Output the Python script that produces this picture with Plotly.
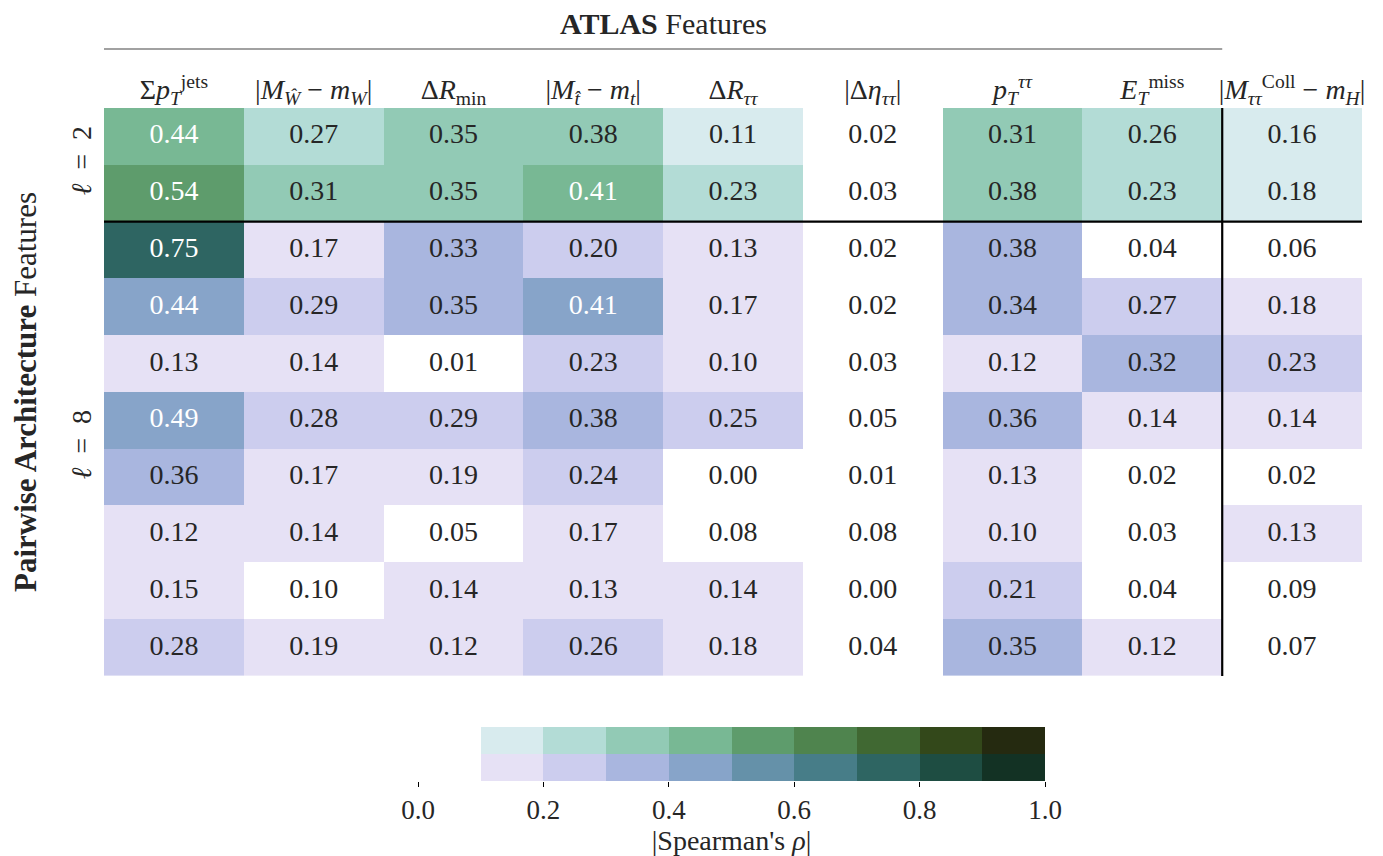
import plotly.graph_objects as go

features = [
    "Σ<i>p</i><sub><i>T</i></sub><sup>jets</sup>",
    "|<i>M</i><sub><i>Ŵ</i></sub> − <i>m</i><sub><i>W</i></sub>|",
    "Δ<i>R</i><sub>min</sub>",
    "|<i>M</i><sub><i>t̂</i></sub> − <i>m</i><sub><i>t</i></sub>|",
    "Δ<i>R</i><sub><i>ττ</i></sub>",
    "|Δ<i>η</i><sub><i>ττ</i></sub>|",
    "<i>p</i><sub><i>T</i></sub><sup><i>ττ</i></sup>",
    "<i>E</i><sub><i>T</i></sub><sup>miss</sup>",
    "|<i>M</i><sub><i>ττ</i></sub><sup>Coll</sup> − <i>m</i><sub><i>H</i></sub>|",
]

# rows for l = 2 (green) and l = 8 (purple)
rho_l2 = [
    [0.44, 0.27, 0.35, 0.38, 0.11, 0.02, 0.31, 0.26, 0.16],
    [0.54, 0.31, 0.35, 0.41, 0.23, 0.03, 0.38, 0.23, 0.18],
]
rho_l8 = [
    [0.75, 0.17, 0.33, 0.204, 0.13, 0.02, 0.38, 0.04, 0.06],
    [0.44, 0.29, 0.35, 0.41, 0.17, 0.02, 0.34, 0.27, 0.18],
    [0.13, 0.14, 0.01, 0.23, 0.104, 0.03, 0.12, 0.32, 0.23],
    [0.49, 0.28, 0.29, 0.38, 0.25, 0.05, 0.36, 0.14, 0.14],
    [0.36, 0.17, 0.19, 0.24, 0.00, 0.01, 0.13, 0.02, 0.02],
    [0.12, 0.14, 0.05, 0.17, 0.08, 0.08, 0.102, 0.03, 0.13],
    [0.15, 0.097, 0.14, 0.13, 0.14, 0.00, 0.21, 0.04, 0.09],
    [0.28, 0.19, 0.12, 0.26, 0.18, 0.04, 0.35, 0.12, 0.07],
]
group_labels = ["<i>ℓ</i>\u2002=\u20022", "<i>ℓ</i>\u2002=\u20028"]

green = ["#ffffff", "#d8ebee", "#b3dcd6", "#92cab5", "#78b894",
         "#5e9c6c", "#4f844e", "#406832", "#33481a", "#252a10"]
purple = ["#ffffff", "#e6e1f5", "#cccdee", "#a9b6df", "#87a4c9",
          "#6591a9", "#477d88", "#2e6562", "#1e4d42", "#133224"]
cbar_bins = [0.05, 0.15, 0.25, 0.35, 0.45, 0.55, 0.65, 0.75, 0.85, 0.95]
cbar_ticks = [0.0, 0.2, 0.4, 0.6, 0.8, 1.0]


def discrete(colors):
    n = len(colors)
    cs = []
    for i, c in enumerate(colors):
        cs.append([i / n, c])
        cs.append([(i + 1) / n, c])
    return cs


FONT = "Liberation Serif"
ncol = len(features)
n2 = len(rho_l2)
n8 = len(rho_l8)
xs = list(range(ncol))

fig = go.Figure()
fig.add_trace(go.Heatmap(
    z=rho_l2, x=xs, y=list(range(n2)), zmin=0, zmax=1,
    colorscale=discrete(green), showscale=False, hoverinfo="skip"))
fig.add_trace(go.Heatmap(
    z=rho_l8, x=xs, y=list(range(n2, n2 + n8)), zmin=0, zmax=1,
    colorscale=discrete(purple), showscale=False, hoverinfo="skip"))

all_rows = rho_l2 + rho_l8
tx, ty, tt, tc = [], [], [], []
for r, row in enumerate(all_rows):
    for c, v in enumerate(row):
        tx.append(c)
        ty.append(r)
        tt.append(f"{v:.2f}")
        tc.append("white" if v >= 0.4 else "#262626")
fig.add_trace(go.Scatter(
    x=tx, y=ty, mode="text", text=tt,
    textfont=dict(family=FONT, size=28, color=tc), hoverinfo="skip",
    showlegend=False))

# colorbar built from two heatmap rows
fig.add_trace(go.Heatmap(
    z=[cbar_bins], x=cbar_bins, y=[1], zmin=0, zmax=1,
    colorscale=discrete(green), showscale=False, hoverinfo="skip",
    xaxis="x2", yaxis="y2"))
fig.add_trace(go.Heatmap(
    z=[cbar_bins], x=cbar_bins, y=[0], zmin=0, zmax=1,
    colorscale=discrete(purple), showscale=False, hoverinfo="skip",
    xaxis="x2", yaxis="y2"))

W, H = 1383, 856
OFF = 8  # page body margin


def px(v):
    return (v - OFF) / W


def py(v):
    return 1 - (v - OFF) / H


fig.update_layout(
    width=W, height=H, margin=dict(l=0, r=0, t=0, b=0),
    paper_bgcolor="white", plot_bgcolor="white",
    font=dict(family=FONT, size=28, color="#262626"),
    showlegend=False,
    xaxis=dict(domain=[px(104), px(1362)], range=[-0.5, ncol - 0.5],
               side="top", tickvals=xs, ticktext=features, automargin=False,
               showgrid=False, zeroline=False, showline=False, ticks="",
               tickfont=dict(size=28), ticklabelstandoff=2),
    yaxis=dict(domain=[py(676), py(108)],
               range=[n2 + n8 - 0.5, -0.5], automargin=False,
               tickvals=[(n2 - 1) / 2, n2 + (n8 - 1) / 2],
               ticktext=group_labels, tickangle=-90,
               showgrid=False, zeroline=False, showline=False, ticks="",
               tickfont=dict(size=28), ticklabelstandoff=6,
               title=dict(text="<b>Pairwise Architecture</b> Features",
                          font=dict(size=31), standoff=30)),
    xaxis2=dict(domain=[px(418), px(1045)], range=[0, 1], anchor="y2",
                tickvals=cbar_ticks, automargin=False,
                ticktext=[f"{t:.1f}" for t in cbar_ticks],
                ticks="outside", ticklen=5, tickcolor="black",
                showgrid=False, zeroline=False, showline=False,
                tickfont=dict(size=27), ticklabelstandoff=0,
                title=dict(text="|Spearman's <i>ρ</i>|", font=dict(size=28),
                           standoff=2)),
    yaxis2=dict(domain=[py(781), py(727)], range=[-0.5, 1.5],
                anchor="x2", visible=False, automargin=False),
)

# separators
fig.add_shape(type="line", xref="x", yref="y", x0=ncol - 1.5, x1=ncol - 1.5,
              y0=-0.5, y1=n2 + n8 - 0.5, line=dict(color="black", width=2.2))
fig.add_shape(type="line", xref="x", yref="y", x0=-0.5, x1=ncol - 0.5,
              y0=n2 - 0.5, y1=n2 - 0.5, line=dict(color="black", width=2.2))
# top bracket line over ATLAS features
fig.add_shape(type="line", xref="x", yref="paper", x0=-0.5, x1=ncol - 1.5,
              y0=py(49), y1=py(49), line=dict(color="#444444", width=1.2))
fig.add_annotation(text="<b>ATLAS</b> Features", xref="x", yref="paper",
                   x=(ncol - 2) / 2, y=py(23), showarrow=False, borderpad=0,
                   font=dict(size=30), xanchor="center", yanchor="middle")

fig.write_html("out.html")
